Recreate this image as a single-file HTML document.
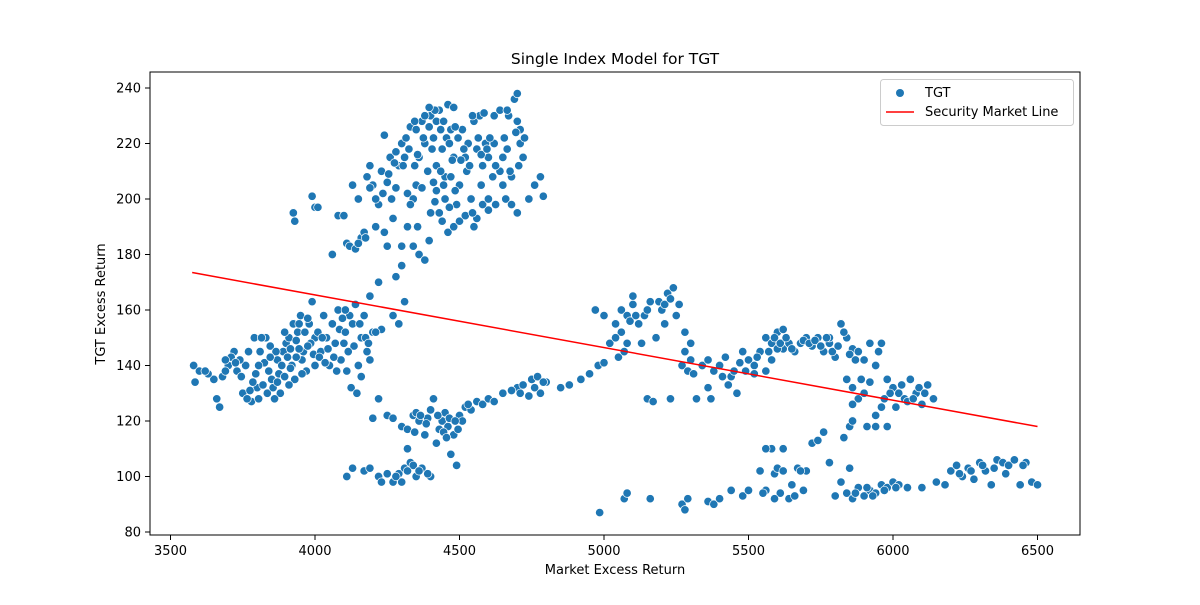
<!DOCTYPE html>
<html><head><meta charset="utf-8"><style>
body{margin:0;background:#fff;}
svg text{font-family:"DejaVu Sans","Liberation Sans",sans-serif;fill:#000;}
</style></head><body>
<svg id="chart" width="1200" height="600" xmlns="http://www.w3.org/2000/svg">
<rect width="1200" height="600" fill="#fff"/>
<text x="615" y="64" font-size="15.5" text-anchor="middle">Single Index Model for TGT</text>
<g id="plot"></g>
<rect x="150" y="72" width="930" height="463" fill="none" stroke="#000" stroke-width="1"/>
<g id="xt"></g>
<g id="yt"></g>
<text x="615" y="574" font-size="13" text-anchor="middle">Market Excess Return</text>
<text transform="translate(105,304) rotate(-90)" font-size="13" text-anchor="middle">TGT Excess Return</text>
<g>
<rect x="880.5" y="79.5" width="193" height="46" rx="3" fill="#fff" fill-opacity="0.8" stroke="#ccc"/>
<circle cx="900" cy="93" r="4" fill="#1f77b4"/>
<text x="925" y="97" font-size="13">TGT</text>
<line x1="886" y1="112" x2="914" y2="112" stroke="red" stroke-width="1.5"/>
<text x="925" y="116" font-size="13">Security Market Line</text>
</g>
</svg>
<script>
const xTicks=[3500,4000,4500,5000,5500,6000,6500];
const yTicks=[80,100,120,140,160,180,200,220,240];
const lineX=[3575,6500];
const lineY=[173.5,118];
const points=[
[3580,140],[3600,138],[3650,135],[3660,128],[3680,136],[3700,140],[3720,145],[3750,130],[3760,140],[3780,127],[3800,132],[3810,145],[3830,150],[3850,135],[3870,142],[3880,130],[3900,148],[3920,140],[3940,152],[3960,145],[3980,155],[4000,150],[4000,140],[3990,163],[3970,138],[3950,158],[3930,135],[3910,150],[3890,145],[3860,128],[3840,138],[3820,133],[3790,150],[3770,145],[3740,142],[3730,138],[3710,143],[3690,138],[3670,125],[3630,137],[3585,134],[3765,128],[3835,130],[3905,143],[3945,146],[3985,148],[3925,155],[3875,137],[3815,150],
[3620,138],[3690,142],[3725,141],[3745,136],[3775,131],[3795,137],[3805,128],[3825,141],[3845,147],[3855,132],[3865,145],[3885,140],[3895,152],[3915,146],[3935,149],[3955,142],[3965,152],[3975,147],[3995,144],[3955,137],[3935,143],[3895,136],[3845,143],[3805,140],[3785,134],[3915,139],[3975,157],[3945,155],[3910,133],[3870,134],
[4020,145],[4040,150],[4060,155],[4080,160],[4100,148],[4120,158],[4140,162],[4160,150],[4180,145],[4200,152],[4050,140],[4090,142],[4110,138],[4130,155],[4150,140],[4170,158],[4190,165],[4070,148],[4030,158],[4010,152],[4125,132],[4145,130],[4160,136],[4190,142],[4015,143],[4085,153],[4135,147],
[4025,150],[4045,146],[4065,143],[4095,157],[4105,152],[4115,145],[4155,155],[4175,150],[4035,141],[4075,138],[4185,148],[4105,160],
[4220,170],[4280,172],[4300,176],[4310,163],[4270,158],[4290,155],[4230,153],[4210,152],
[4200,121],[4220,128],[4250,122],[4270,121],[4300,118],[4320,117],[4340,122],[4360,120],[4380,115],[4400,124],[4420,112],[4440,120],[4460,118],[4480,115],[4500,122],[4520,125],[4540,124],[4560,127],[4580,126],[4600,128],[4650,130],[4700,132],[4720,133],[4750,135],[4780,130],[4800,134],[4320,110],[4410,128],[4470,108],[4490,104],[4350,123],[4390,121],[4430,117],[4450,123],[4510,120],[4680,131],[4740,129],[4770,136],
[4365,122],[4385,119],[4425,122],[4445,116],[4465,121],[4485,120],[4495,117],[4530,126],[4620,127],[4710,130],[4760,132],[4790,134],[4345,116],[4455,114],
[4110,100],[4130,103],[4170,102],[4190,103],[4220,100],[4250,101],[4270,98],[4290,101],[4310,103],[4330,105],[4350,100],[4370,103],[4400,100],[4230,98],[4300,98],[4340,104],[4390,101],[4320,102],[4360,102],[4280,100],
[4850,132],[4880,133],[4920,135],[4950,137],[4980,140],[5000,141],[5020,148],[5040,155],[5060,160],[5080,158],[5100,162],[5120,155],[5140,158],[5160,163],[5180,150],[5200,160],[5220,166],[5240,168],[5260,162],[5280,152],[5300,148],[4970,160],[5000,158],[5050,143],[5070,145],[5130,148],[5150,128],[5170,127],[5230,128],[5270,140],[5290,138],[5320,128],[5340,140],[5360,142],[5380,138],[5400,140],[5420,143],[5440,136],[5460,130],[5480,145],[5500,142],[5520,140],[5540,145],[5560,150],[5580,148],[5600,152],[5620,146],[5640,148],[5660,145],[5680,148],[5700,150],[5720,147],[5740,150],[5760,145],[5780,148],[5800,143],[5820,155],[5840,150],[5860,146],[5880,145],[5900,142],[5920,148],[5940,140],[5960,148],[5980,135],[6000,132],[6020,130],[6040,128],[6060,135],[6080,130],[6100,126],[6120,133],[6140,128],[5840,135],[5860,132],[5880,128],[5900,130],[5920,134],[5940,122],[5960,125],[5980,118],[5860,126],[5850,118],[5830,114],[5860,120],[5940,118],[5910,118],[5560,138],[5580,142],[5600,146],[5520,137],[5450,138],[5430,133],[5470,141],[5360,132],[5370,128],[5300,142],[5280,145],[5210,155],[5190,163],[5100,165],[5060,152],[5040,150],[5080,148],[6010,125],[6050,127],[6090,132],[5780,150],[5620,153],
[5090,156],[5110,158],[5150,160],[5210,162],[5230,164],[5250,158],[5570,145],[5590,150],[5610,148],[5630,150],[5650,146],[5690,149],[5710,148],[5730,149],[5750,147],[5770,150],[5790,145],[5810,147],[5830,152],[5850,144],[5870,142],[5990,130],[6030,133],[6070,128],[6110,130],[5950,145],[5970,128],[5890,135],[5310,137],[5410,136],[5490,138],[5530,143],
[4985,87],[5070,92],[5080,94],[5160,92],[5270,90],[5280,88],[5290,92],[5360,91],[5380,90],[5400,92],[5440,95],[5480,93],[5500,95],[5540,102],[5560,95],[5580,110],[5590,101],[5600,103],[5620,102],[5640,92],[5650,97],[5670,103],[5690,95],[5700,102],[5720,112],[5740,113],[5760,116],[5780,105],[5800,93],[5840,94],[5860,92],[5880,96],[5900,93],[5920,95],[5940,94],[5960,97],[5980,96],[6000,98],[6020,97],[6050,96],[6100,96],[6150,98],[6180,97],[6200,102],[6220,104],[6240,100],[6260,103],[6280,99],[6300,105],[6320,102],[6340,97],[6360,106],[6380,105],[6400,104],[6420,106],[6440,97],[6460,105],[6480,98],[6500,97],[5620,110],[5560,110],[5820,98],[5850,103],[5550,94],[5610,94],[5590,92],
[5870,94],[5910,96],[5930,93],[5970,95],[6010,96],[6230,101],[6270,102],[6310,104],[6350,103],[6390,101],[6450,104],[5660,93],[5680,102],
[3925,195],[3930,192],[3990,201],[4000,197],[4010,197],[4060,180],[4080,194],[4100,194],[4110,184],[4120,183],[4130,205],[4140,182],[4150,200],[4160,186],[4170,188],[4180,208],[4190,212],[4200,205],[4210,190],[4220,198],[4230,210],[4240,223],[4250,206],[4260,215],[4270,193],[4280,217],[4290,212],[4300,220],[4310,215],[4320,202],[4330,226],[4340,200],[4350,225],[4360,215],[4370,228],[4380,220],[4390,210],[4400,230],[4410,222],[4420,212],[4430,232],[4440,218],[4450,208],[4460,234],[4470,225],[4480,215],[4490,198],[4500,205],[4510,225],[4520,215],[4530,220],[4540,200],[4550,228],[4560,218],[4570,230],[4580,212],[4590,220],[4600,196],[4620,230],[4640,232],[4650,215],[4660,200],[4670,230],[4680,208],[4690,236],[4700,238],[4710,220],[4720,215],[4740,200],[4760,205],[4780,208],[4790,201],[4300,183],[4320,190],[4340,183],[4360,180],[4380,178],[4400,195],[4420,203],[4440,192],[4460,188],[4480,190],[4500,192],[4520,194],[4540,200],[4560,193],[4580,198],[4600,200],[4640,210],[4650,205],[4680,198],[4700,195],[4240,188],[4210,200],[4190,204],[4350,205],[4370,204],[4410,206],[4430,195],[4450,200],[4470,208],[4250,183],[4550,190],[4330,198],[4280,204],[4150,184],[4420,228],[4380,230],[4480,233],[4700,228],[4710,225],[4620,220],[4600,215],[4455,222],[4525,210],[4345,212],[4265,200],[4175,186],
[4305,212],[4325,218],[4355,216],[4375,222],[4395,226],[4405,218],[4415,232],[4435,225],[4445,228],[4465,220],[4475,214],[4485,226],[4495,222],[4505,214],[4515,218],[4535,212],[4565,222],[4575,216],[4595,218],[4605,222],[4615,208],[4625,212],[4655,222],[4665,218],[4675,210],[4695,224],[4705,212],[4725,222],[4445,205],[4465,197],[4415,199],[4395,185],[4355,190],[4255,209],[4275,213],[4235,202],[4315,222],[4345,228],[4395,233],[4435,210],[4485,203],[4545,195],[4575,205],[4625,198],[4545,230],[4585,231],[4665,232]
];
const NS='http://www.w3.org/2000/svg';
const xs=v=>170.5+(v-3500)*144.5/500;
const ys=v=>532-(v-80)*2.775;
const plot=document.getElementById('plot');
points.forEach((p,i)=>{
 const c=document.createElementNS(NS,'circle');
 c.setAttribute('cx',xs(p[0]));c.setAttribute('cy',ys(p[1]));c.setAttribute('r',4.2);
 c.setAttribute('fill','#1f77b4');c.setAttribute('stroke','#fff');c.setAttribute('stroke-width','0.7');
 
 
 plot.appendChild(c);
});
const ln=document.createElementNS(NS,'line');
ln.setAttribute('x1',xs(lineX[0]));ln.setAttribute('y1',ys(lineY[0]));
ln.setAttribute('x2',xs(lineX[1]));ln.setAttribute('y2',ys(lineY[1]));
ln.setAttribute('stroke','red');ln.setAttribute('stroke-width','1.5');


plot.appendChild(ln);
const xt=document.getElementById('xt');
xTicks.forEach(v=>{
 const l=document.createElementNS(NS,'line');
 l.setAttribute('x1',xs(v));l.setAttribute('x2',xs(v));l.setAttribute('y1',535);l.setAttribute('y2',540);l.setAttribute('stroke','#000');
 
 
 xt.appendChild(l);
 const t=document.createElementNS(NS,'text');
 t.setAttribute('x',xs(v));t.setAttribute('y',555);t.setAttribute('font-size','13');t.setAttribute('text-anchor','middle');
 t.textContent=v;
 
 
 xt.appendChild(t);
});
const yt=document.getElementById('yt');
yTicks.forEach(v=>{
 const l=document.createElementNS(NS,'line');
 l.setAttribute('x1',145);l.setAttribute('x2',150);l.setAttribute('y1',ys(v));l.setAttribute('y2',ys(v));l.setAttribute('stroke','#000');
 
 
 yt.appendChild(l);
 const t=document.createElementNS(NS,'text');
 t.setAttribute('x',141);t.setAttribute('y',ys(v)+4.5);t.setAttribute('font-size','13');t.setAttribute('text-anchor','end');
 t.textContent=v;
 
 
 yt.appendChild(t);
});
</script>
</body></html>
